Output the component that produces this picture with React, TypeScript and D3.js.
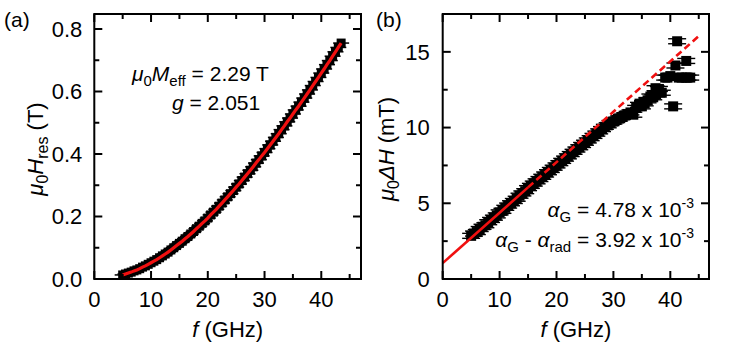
import React, { useEffect } from 'react';
import * as d3 from 'd3';

// panel (a): resonance field vs frequency
const freqA = [5, 5.5, 6, 6.5, 7, 7.5, 8, 8.5, 9, 9.5, 10, 10.5, 11, 11.5, 12, 12.5, 13, 13.5, 14, 14.5,
  15, 15.5, 16, 16.5, 17, 17.5, 18, 18.5, 19, 19.5, 20, 20.5, 21, 21.5, 22, 22.5, 23, 23.5, 24, 24.5,
  25, 25.5, 26, 26.5, 27, 27.5, 28, 28.5, 29, 29.5, 30, 30.5, 31, 31.5, 32, 32.5, 33, 33.5, 34, 34.5,
  35, 35.5, 36, 36.5, 37, 37.5, 38, 38.5, 39, 39.5, 40, 40.5, 41, 41.5, 42, 42.5, 43, 43.5];
const hResA = [0.013, 0.016, 0.019, 0.022, 0.026, 0.029, 0.033, 0.038, 0.042, 0.047, 0.052, 0.057, 0.062, 0.068,
  0.074, 0.080, 0.086, 0.093, 0.100, 0.107, 0.114, 0.121, 0.129, 0.136, 0.144, 0.152, 0.161, 0.169, 0.178, 0.186,
  0.195, 0.205, 0.214, 0.223, 0.233, 0.243, 0.253, 0.263, 0.273, 0.283, 0.294, 0.304, 0.315, 0.326, 0.337, 0.348,
  0.359, 0.371, 0.382, 0.394, 0.405, 0.417, 0.429, 0.441, 0.453, 0.465, 0.478, 0.490, 0.503, 0.515, 0.528, 0.541,
  0.553, 0.566, 0.579, 0.592, 0.605, 0.619, 0.632, 0.645, 0.659, 0.672, 0.686, 0.699, 0.713, 0.727, 0.741, 0.755];

// panel (b): linewidth vs frequency
const freqB = [5, 5.5, 6, 6.5, 7, 7.5, 8, 8.5, 9, 9.5, 10, 10.5, 11, 11.5, 12, 12.5, 13, 13.5, 14, 14.5,
  15, 15.5, 16, 16.5, 17, 17.5, 18, 18.5, 19, 19.5, 20, 20.5, 21, 21.5, 22, 22.5, 23, 23.5, 24, 24.5,
  25, 25.5, 26, 26.5, 27, 27.5, 28, 28.5, 29, 29.5, 30, 30.5, 31, 31.5, 32, 32.5, 33, 33.5, 34, 34.5,
  35, 35.3, 35.5, 36, 36.5, 37, 37.4, 37.5, 38, 38.5, 39.1, 39.5, 40, 40.5, 40.9, 41.2, 41.5, 42, 42.7, 42.8, 43, 43.5];
const dHB = [2.85, 3.0, 3.1, 3.3, 3.45, 3.55, 3.75, 3.9, 4.05, 4.2, 4.4, 4.5, 4.7, 4.85, 5.0, 5.15, 5.3, 5.5, 5.65, 5.8,
  6.0, 6.15, 6.3, 6.45, 6.6, 6.75, 6.9, 7.05, 7.2, 7.35, 7.5, 7.65, 7.8, 7.95, 8.1, 8.25, 8.4, 8.55, 8.7, 8.85,
  9.0, 9.15, 9.3, 9.45, 9.6, 9.75, 9.9, 10.05, 10.15, 10.3, 10.4, 10.5, 10.6, 10.7, 10.8, 10.9, 11.0, 10.85, 11.3, 11.5,
  11.4, 11.7, 11.6, 11.8, 12.05, 12.0, 12.6, 12.2, 12.55, 12.3, 13.3, 13.3, 13.4, 11.4, 14.1, 15.7, 13.3, 13.3, 13.3, 14.4, 13.3, 13.3];

// straight-line fit in (b): solid over the fit range, dashed beyond
const fitSolidF = [0, 15];
const fitSolidV = [1.05, 6.05];
const fitDashF = [15, 45];
const fitDashV = [6.05, 16.04];

const xMajor = [0, 10, 20, 30, 40];
const xMinor = [5, 15, 25, 35, 45];
const yMajorA = [0, 0.2, 0.4, 0.6, 0.8];
const yLabelsA = ['0.0', '0.2', '0.4', '0.6', '0.8'];
const yMinorA = [0.1, 0.3, 0.5, 0.7];
const yMajorB = [0, 5, 10, 15];
const yLabelsB = ['0', '5', '10', '15'];
const yMinorB = [2.5, 7.5, 12.5];

const FONT = '"Liberation Sans", Arial, Helvetica, sans-serif';
const RED = '#f01010';

const Frame = ({ x, y, yMajor, yLabels, yMinor, labelGap }) => {
  const [x0, x1] = x.range();
  const [y0, y1] = y.range();
  const major = 8;
  const minor = 5;
  return (
    <g>
      {xMajor.map((t) => (
        <g key={'xm' + t}>
          <line x1={x(t)} x2={x(t)} y1={y0} y2={y0 - major} stroke="#000" strokeWidth={2} />
          <line x1={x(t)} x2={x(t)} y1={y1} y2={y1 + major} stroke="#000" strokeWidth={2} />
          <text x={x(t)} y={y0 + 28} textAnchor="middle" fontSize={22}>{t}</text>
        </g>
      ))}
      {xMinor.map((t) => (
        <g key={'xn' + t}>
          <line x1={x(t)} x2={x(t)} y1={y0} y2={y0 - minor} stroke="#000" strokeWidth={2} />
          <line x1={x(t)} x2={x(t)} y1={y1} y2={y1 + minor} stroke="#000" strokeWidth={2} />
        </g>
      ))}
      {yMajor.map((t, i) => (
        <g key={'ym' + t}>
          <line x1={x0} x2={x0 + major} y1={y(t)} y2={y(t)} stroke="#000" strokeWidth={2} />
          <line x1={x1} x2={x1 - major} y1={y(t)} y2={y(t)} stroke="#000" strokeWidth={2} />
          <text x={x0 - labelGap} y={y(t)} dy="0.36em" textAnchor="end" fontSize={22}>{yLabels[i]}</text>
        </g>
      ))}
      {yMinor.map((t) => (
        <g key={'yn' + t}>
          <line x1={x0} x2={x0 + minor} y1={y(t)} y2={y(t)} stroke="#000" strokeWidth={2} />
          <line x1={x1} x2={x1 - minor} y1={y(t)} y2={y(t)} stroke="#000" strokeWidth={2} />
        </g>
      ))}
      <rect x={x0} y={y1} width={x1 - x0} height={y0 - y1} fill="none" stroke="#000" strokeWidth={2} />
      <text x={(x0 + x1) / 2} y={y0 + 58} textAnchor="middle" fontSize={22}>
        <tspan fontStyle="italic">f</tspan> (GHz)
      </text>
    </g>
  );
};

const App = () => {
  useEffect(() => {
    document.body.style.margin = '0';
  }, []);

  const xA = d3.scaleLinear().domain([0, 47]).range([94.3, 361]);
  const yA = d3.scaleLinear().domain([0, 0.848]).range([279, 14]);
  const xB = d3.scaleLinear().domain([0, 46.8]).range([442.7, 709]);
  const yB = d3.scaleLinear().domain([0, 17.5]).range([279, 14]);

  const lineA = d3.line<number>().x((d, i) => xA(freqA[i])).y((d) => yA(d));
  const lineB = d3.line<number>().x((d) => d[0]).y((d) => d[1]);

  const solidPts = fitSolidF.map((f, i) => [xB(f), yB(fitSolidV[i])]);
  const dashPts = fitDashF.map((f, i) => [xB(f), yB(fitDashV[i])]);

  const sqA = 9;
  const sqB = 10;

  return (
    <svg width={740} height={357} style={{ display: 'block', background: '#fff' }} fontFamily={FONT}>
      {/* (a) */}
      <text x={4} y={27} fontSize={21}>(a)</text>
      <g>
        {freqA.map((f, i) => (
          <g key={'a' + i}>
            <line x1={xA(f) - 8} x2={xA(f) + 8} y1={yA(hResA[i])} y2={yA(hResA[i])} stroke="#000" strokeWidth={1.5} />
            <rect x={xA(f) - sqA / 2} y={yA(hResA[i]) - sqA / 2} width={sqA} height={sqA} fill="#000" />
          </g>
        ))}
        <path d={lineA(hResA)} fill="none" stroke={RED} strokeWidth={3.2} />
      </g>
      <Frame x={xA} y={yA} yMajor={yMajorA} yLabels={yLabelsA} yMinor={yMinorA} labelGap={12} />
      <text x={132} y={81} fontSize={21}>
        <tspan fontStyle="italic">μ</tspan><tspan fontSize={15} dy={5}>0</tspan>
        <tspan fontStyle="italic" dy={-5}>M</tspan><tspan fontSize={15} dy={5}>eff</tspan>
        <tspan dy={-5}> = 2.29 T</tspan>
      </text>
      <text x={172} y={110} fontSize={21}>
        <tspan fontStyle="italic">g</tspan> = 2.051
      </text>
      <text transform="translate(43,149) rotate(-90)" textAnchor="middle" fontSize={22}>
        <tspan fontStyle="italic">μ</tspan><tspan fontSize={16} dy={5}>0</tspan>
        <tspan fontStyle="italic" dy={-5}>H</tspan><tspan fontSize={16} dy={5}>res</tspan>
        <tspan dy={-5}> (T)</tspan>
      </text>

      {/* (b) */}
      <text x={376} y={27} fontSize={21}>(b)</text>
      <g>
        {freqB.map((f, i) => (
          <g key={'b' + i}>
            <line x1={xB(f) - 9} x2={xB(f) + 9} y1={yB(dHB[i]) - 2.5} y2={yB(dHB[i]) - 2.5} stroke="#000" strokeWidth={1.4} />
            <line x1={xB(f) - 9} x2={xB(f) + 9} y1={yB(dHB[i]) + 2.5} y2={yB(dHB[i]) + 2.5} stroke="#000" strokeWidth={1.4} />
            <rect x={xB(f) - sqB / 2} y={yB(dHB[i]) - sqB / 2} width={sqB} height={sqB} fill="#000" />
          </g>
        ))}
        <path d={lineB(solidPts)} fill="none" stroke={RED} strokeWidth={2.6} />
        <path d={lineB(dashPts)} fill="none" stroke={RED} strokeWidth={2.6} strokeDasharray="7,4" />
      </g>
      <Frame x={xB} y={yB} yMajor={yMajorB} yLabels={yLabelsB} yMinor={yMinorB} labelGap={13} />
      <text x={694} y={217} textAnchor="end" fontSize={21}>
        <tspan fontStyle="italic">α</tspan><tspan fontSize={15} dy={5}>G</tspan>
        <tspan dy={-5}> = 4.78 x 10</tspan><tspan fontSize={14} dy={-9}>-3</tspan>
      </text>
      <text x={694} y={247} textAnchor="end" fontSize={21}>
        <tspan fontStyle="italic">α</tspan><tspan fontSize={15} dy={5}>G</tspan>
        <tspan dy={-5}> - </tspan><tspan fontStyle="italic">α</tspan><tspan fontSize={15} dy={5}>rad</tspan>
        <tspan dy={-5}> = 3.92 x 10</tspan><tspan fontSize={14} dy={-9}>-3</tspan>
      </text>
      <text transform="translate(394,149) rotate(-90)" textAnchor="middle" fontSize={22}>
        <tspan fontStyle="italic">μ</tspan><tspan fontSize={16} dy={5}>0</tspan>
        <tspan fontStyle="italic" dy={-5}>ΔH</tspan>
        <tspan> (mT)</tspan>
      </text>
    </svg>
  );
};

export default App;
